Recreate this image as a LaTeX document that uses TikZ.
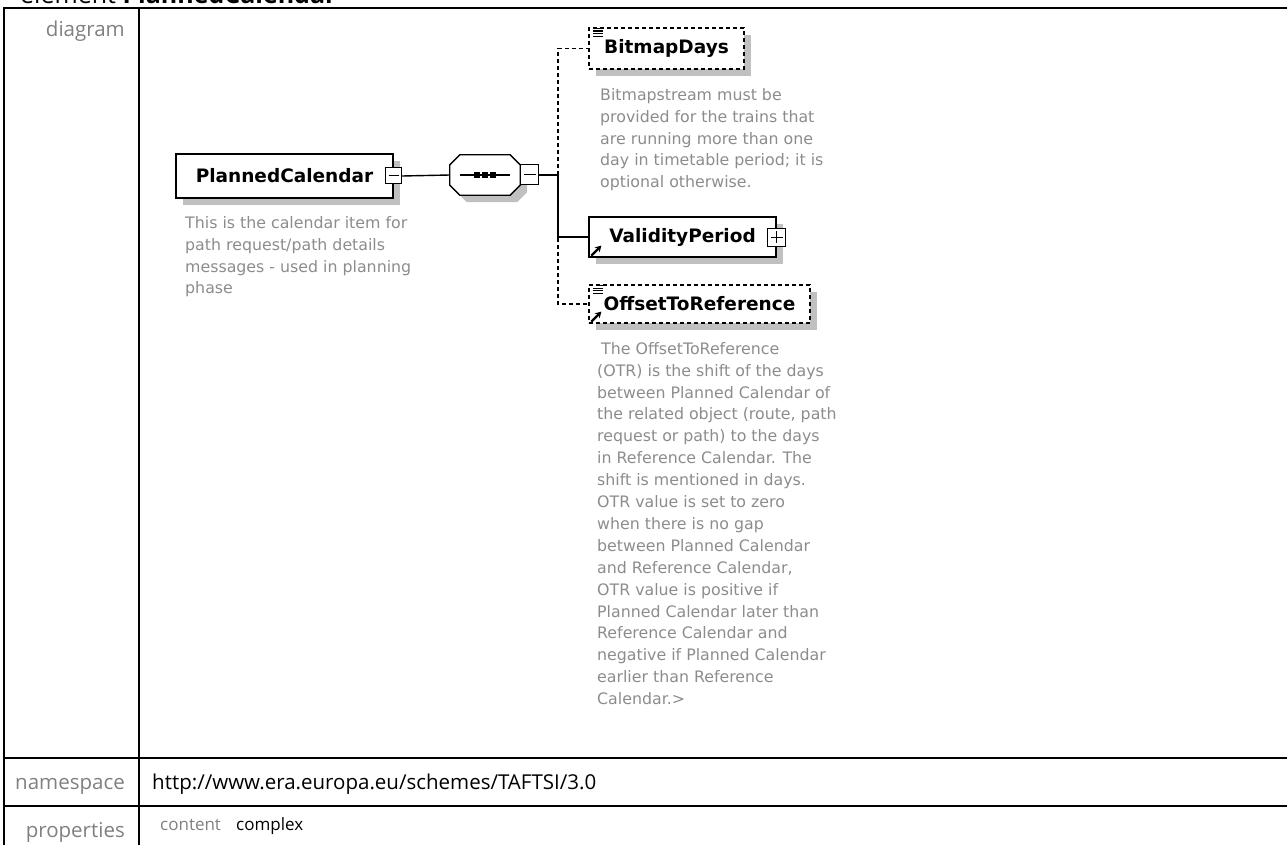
\documentclass[tikz,border=0pt]{standalone}
\usepackage{fontspec}
\setmainfont{Open Sans}
\newfontfamily\diafont{DejaVu Sans}
\usetikzlibrary{positioning,shadows,arrows.meta}

\definecolor{lblgray}{RGB}{128,128,128}
\definecolor{docgray}{RGB}{140,140,140}
\definecolor{shadowgray}{RGB}{192,192,192}

\tikzset{
  elem/.style={draw, line width=1.3pt, fill=white, inner sep=0pt,
    font=\diafont\bfseries\fontsize{18.5}{20}\selectfont,
    drop shadow={shadow xshift=7pt, shadow yshift=-7pt, fill=shadowgray, opacity=1}},
  optelem/.style={elem, dash pattern=on 4pt off 3pt},
  conn/.style={line width=1.4pt},
  optconn/.style={line width=1.4pt, dash pattern=on 4pt off 3pt},
  minusbox/.style={draw, line width=1pt, fill=white, minimum size=16pt, inner sep=0pt,
    path picture={\draw[line width=1pt] ([xshift=3pt]path picture bounding box.west)
      -- ([xshift=-3pt]path picture bounding box.east);}},
  plusbox/.style={minusbox, path picture={
      \draw[line width=1pt] ([xshift=3pt]path picture bounding box.west)
      -- ([xshift=-3pt]path picture bounding box.east);
      \draw[line width=1pt] ([yshift=-3pt]path picture bounding box.north)
      -- ([yshift=3pt]path picture bounding box.south);}},
  doc/.style={anchor=north west, align=left, inner sep=0pt, text=docgray,
    font=\diafont\fontsize{15.8}{21.9}\selectfont},
  lbl/.style={inner sep=0pt, text=lblgray, font=\fontsize{20.5}{24}\selectfont},
  val/.style={inner sep=0pt, font=\fontsize{20.5}{24}\selectfont},
  prop/.style={inner sep=0pt, font=\fontsize{17}{20}\selectfont},
  listicon/.pic={
    \draw[line width=1.1pt] (4,0) -- (10,0);
    \foreach \i in {1,2,3} \draw[line width=1.1pt] (0,\i*2.7) -- (10,\i*2.7);},
  reficon/.style={line width=2.2pt, -{Stealth[length=6pt,width=7pt]}}
}

\begin{document}
\begin{tikzpicture}[x=1pt, y=-1pt]
\useasboundingbox (0,0) rectangle (1287,845);

% table frame
\node[anchor=base west, inner sep=0pt, font=\fontsize{25}{30}\selectfont] (title) at (20,4) {element \textbf{PlannedCalendar}};
\draw[line width=1.6pt] (1287,8) -- (4,8) -- (4,845);
\draw[line width=1.6pt] (139,8) -- (139,845);
\draw[line width=1.6pt] (4,758) -- (1287,758);
\draw[line width=1.6pt] (4,806) -- (1287,806);

\node[lbl, anchor=base east] (diag) at (125,37) {diagram};
\node[lbl, anchor=base east] (ns) at (125,789) {namespace};
\node[val, anchor=base west] (nsval) at (152,789) {http://www.era.europa.eu/schemes/TAFTSI/3.0};
\node[lbl, anchor=base east] (props) at (125,837) {properties};
\node[prop, text=lblgray, anchor=base west] (content) at (160,830) {content};
\node[prop, anchor=base west] (complex) at (236,830) {complex};

% element and its sequence
\node[elem, minimum width=217pt, minimum height=44pt] (pc) at (284.5,176) {PlannedCalendar};
\node[minusbox] (pcm) at (pc.east) {};
\node[doc] (pcdoc) at (185,216) {This is the calendar item for\\path request/path details\\messages - used in planning\\phase};

\node[minimum width=70pt, minimum height=40pt, inner sep=0pt] (seq) at (485,175) {};
\path[draw, line width=1.3pt, fill=white,
  drop shadow={shadow xshift=7pt, shadow yshift=-7pt, fill=shadowgray, opacity=1}]
  ([xshift=10pt]seq.north west) -- ([xshift=-10pt]seq.north east)
  -- ([yshift=-10pt]seq.north east) -- ([yshift=10pt]seq.south east)
  -- ([xshift=-10pt]seq.south east) -- ([xshift=10pt]seq.south west)
  -- ([yshift=10pt]seq.south west) -- ([yshift=-10pt]seq.north west) -- cycle;
\draw[line width=1.3pt] ([xshift=10pt]seq.west) -- ([xshift=-10pt]seq.east);
\foreach \dx in {-8,0,8}
  \fill ([xshift=\dx pt]seq.center) +(-2.6,-2.6) rectangle +(2.6,2.6);
\node[minusbox, minimum width=18pt, minimum height=20pt, anchor=west] (seqm) at (seq.east) {};
\coordinate (bus) at (558,175);

% children
\node[optelem, minimum width=155pt, minimum height=41pt] (bd) at (666.5,48.5) {BitmapDays};
\node[doc] (bddoc) at (600,88) {Bitmapstream must be\\provided for the trains that\\are running more than one\\day in timetable period; it is\\optional otherwise.};

\node[elem, minimum width=187pt, minimum height=40pt] (vp) at (682.5,237) {ValidityPeriod};
\node[plusbox, minimum size=18pt] (vpp) at (vp.east) {};

\node[optelem, minimum width=221pt, minimum height=38pt] (otr) at (699.5,304) {OffsetToReference};
\node[doc] (otrdoc) at (597,342) {\hspace{4pt}The OffsetToReference\\(OTR) is the shift of the days\\between Planned Calendar of\\the related object (route, path\\request or path) to the days\\in Reference Calendar. The\\shift is mentioned in days.\\OTR value is set to zero\\when there is no gap\\between Planned Calendar\\and Reference Calendar,\\OTR value is positive if\\Planned Calendar later than\\Reference Calendar and\\negative if Planned Calendar\\earlier than Reference\\Calendar.>};

% icons
\pic at ([xshift=5pt,yshift=-1pt]bd.north west) {listicon};
\pic at ([xshift=5pt,yshift=-1pt]otr.north west) {listicon};
\draw[reficon] ([xshift=3pt,yshift=2pt]vp.south west) -- ++(10,-10);
\draw[reficon] ([xshift=3pt,yshift=2pt]otr.south west) -- ++(10,-10);

% connectors
\draw[conn] (pcm.east) -- (seq.west);
\draw[conn] (seqm.east) -- (bus);
\draw[optconn] (bus) |- (bd.west);
\draw[optconn] (bus) |- (otr.west);
\draw[conn] (bus) |- (vp.west);
\end{tikzpicture}
\end{document}
